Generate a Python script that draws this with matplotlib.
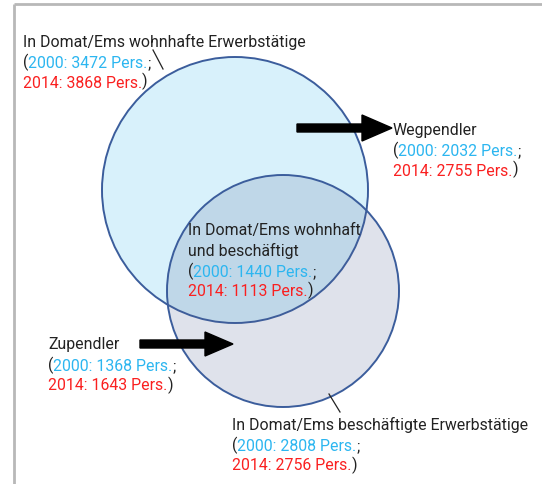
import matplotlib
matplotlib.use("Agg")
import matplotlib.pyplot as plt
from matplotlib.patches import Circle, FancyArrow

# ---- data ----
groups = ["In Domat/Ems wohnhafte Erwerbstätige", "Wegpendler",
          "In Domat/Ems wohnhaft\nund beschäftigt", "Zupendler",
          "In Domat/Ems beschäftigte Erwerbstätige"]
values_2000 = [3472, 2032, 1440, 1368, 2808]
values_2014 = [3868, 2755, 1113, 1643, 2756]
years = ["2000", "2014"]

BLUE = "#2cb6f0"
RED = "#fa2020"
DARK = "#222222"
EDGE = "#3b5d9c"

W, H = 542, 484
fig = plt.figure(figsize=(W / 100, H / 100), dpi=100)
ax = fig.add_axes([0, 0, 1, 1])
ax.set_xlim(0, W)
ax.set_ylim(H, 0)
ax.axis("off")

# frame
ax.plot([14, 14], [H, 4], color="#b8b8b8", lw=2, solid_capstyle="butt")
ax.plot([14, W], [4, 4], color="#b8b8b8", lw=2, solid_capstyle="butt")

# circles
c1 = Circle((235, 190), 133, facecolor="#d8f1fb", edgecolor=EDGE, lw=1.4, zorder=1)
c2 = Circle((283, 291), 116, facecolor=(78/255, 95/255, 146/255, 0.175),
            edgecolor=EDGE, lw=1.4, zorder=2)
ax.add_patch(c1)
ax.add_patch(c2)

# arrows
ax.add_patch(FancyArrow(297, 128, 95, 0, width=8, head_width=26, head_length=30,
                        length_includes_head=True, color="black", zorder=3))
ax.add_patch(FancyArrow(140, 344, 93, 0, width=8, head_width=24, head_length=28,
                        length_includes_head=True, color="black", zorder=3))

# leader lines
ax.plot([153, 163], [50, 69], color=DARK, lw=0.9, zorder=3)
ax.plot([329, 340], [394, 412], color=DARK, lw=0.9, zorder=3)

FS = 11.4
FONT = "Roboto"
GAP = (0, 0)


def label(x, y, idx, lh=20.5):
    lines = groups[idx].split("\n")
    for i, t in enumerate(lines):
        ax.text(x, y + i * lh, t, fontsize=FS, family=FONT, color=DARK,
                va="center", ha="left", zorder=4)
    yy = y + len(lines) * lh
    p = ax.text(x, yy, "(", fontsize=FS, family=FONT, color=DARK,
                va="center", ha="left", zorder=4)
    b = ax.annotate(f"{years[0]}: {values_2000[idx]} Pers.", xy=(1, 0),
                    xycoords=p, xytext=GAP, textcoords="offset points",
                    va="bottom", ha="left", fontsize=FS,
                    family=FONT, color=BLUE, zorder=4)
    ax.annotate(";", xy=(1, 0), xycoords=b, xytext=GAP,
                textcoords="offset points", va="bottom", ha="left",
                fontsize=FS, family=FONT, color=DARK, zorder=4)
    r = ax.text(x, yy + lh, f"{years[1]}: {values_2014[idx]} Pers.",
                fontsize=FS, family=FONT, color=RED, va="center", ha="left",
                zorder=4)
    ax.annotate(")", xy=(1, 0), xycoords=r, xytext=GAP,
                textcoords="offset points", va="bottom", ha="left",
                fontsize=FS, family=FONT, color=DARK, zorder=4)


label(23, 42, 0)
label(393, 130, 1)
label(188, 230, 2)
label(48, 345, 3)
label(232, 425, 4)

fig.savefig("out.png", dpi=100)
